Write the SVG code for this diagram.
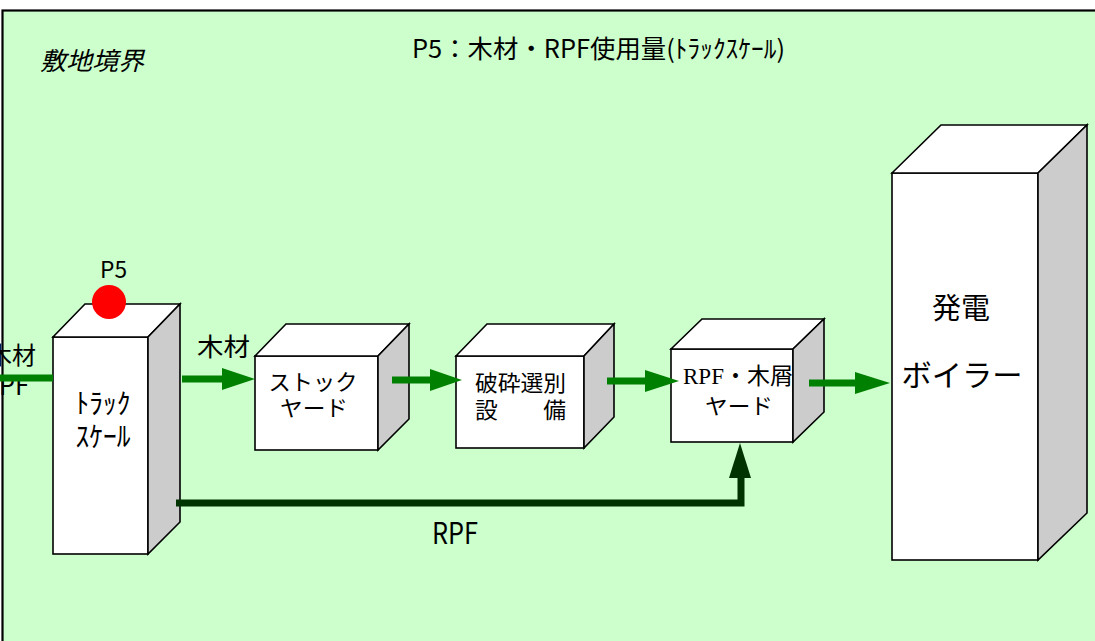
<svg xmlns="http://www.w3.org/2000/svg" width="1095" height="641" viewBox="0 0 1095 641">
<style>
.face{fill:#FFFFFF;stroke:#000000;stroke-width:1.6;stroke-linejoin:miter}
.side{fill:#CCCCCC;stroke:#000000;stroke-width:1.6;stroke-linejoin:miter}
.jp{font-family:"Noto Sans CJK JP",sans-serif;fill:#000000}
.ser{font-family:"Liberation Serif","Noto Sans CJK JP",serif;fill:#000000}
.g{stroke:#008000;stroke-width:7;fill:none}
.gh{fill:#008000}
.d{stroke:#003300;stroke-width:7;fill:none}
.dh{fill:#003300}
</style>
<rect id="boundary" x="2.5" y="10.5" width="1200" height="700" fill="#CCFFCC" stroke="#000000" stroke-width="2.2"/>
<text class="jp" x="40" y="70" font-size="25" font-style="italic" textLength="104" lengthAdjust="spacingAndGlyphs">敷地境界</text>
<text class="jp" x="412" y="58" font-size="25" textLength="373" lengthAdjust="spacingAndGlyphs">P5：木材・RPF使用量(ﾄﾗｯｸｽｹｰﾙ)</text>

<g id="input-label">
<text class="jp" x="-12" y="364" font-size="24">木材</text>
<text class="jp" x="-17" y="395" font-size="27" textLength="46" lengthAdjust="spacingAndGlyphs">RPF</text>
</g>

<g id="truck-scale">
<rect class="face" x="53" y="337" width="95" height="217"/>
<polygon class="face" points="53,337 85,304 180,304 148,337"/>
<polygon class="side" points="148,337 180,304 180,522 148,554"/>
<text class="jp" x="103" y="414" font-size="28" text-anchor="middle" textLength="55" lengthAdjust="spacingAndGlyphs">ﾄﾗｯｸ</text>
<text class="jp" x="103" y="447" font-size="28" text-anchor="middle" textLength="55" lengthAdjust="spacingAndGlyphs">ｽｹｰﾙ</text>
</g>

<g id="p5">
<circle cx="109" cy="302" r="17" fill="#FF0000"/>
<text class="jp" x="100" y="278" font-size="23" textLength="27" lengthAdjust="spacingAndGlyphs">P5</text>
</g>

<g id="stock-yard">
<rect class="face" x="255" y="356" width="123" height="94"/>
<polygon class="face" points="255,356 286,324 409,324 378,356"/>
<polygon class="side" points="378,356 409,324 409,419 378,450"/>
<text class="jp" x="313" y="390" font-size="22" text-anchor="middle" textLength="89" lengthAdjust="spacingAndGlyphs">ストック</text>
<text class="jp" x="314" y="416" font-size="22" text-anchor="middle" textLength="68" lengthAdjust="spacingAndGlyphs">ヤード</text>
</g>

<g id="crusher">
<rect class="face" x="456" y="356" width="128" height="92"/>
<polygon class="face" points="456,356 487,324 614,324 584,356"/>
<polygon class="side" points="584,356 614,324 614,417 584,448"/>
<text class="jp" x="475" y="391" font-size="22" textLength="91" lengthAdjust="spacingAndGlyphs">破砕選別</text>
<text class="jp" x="475" y="418" font-size="22" textLength="91" lengthAdjust="spacingAndGlyphs">設　　備</text>
</g>

<g id="rpf-yard">
<rect class="face" x="671" y="349" width="122" height="93"/>
<polygon class="face" points="671,349 702,319 824,319 793,349"/>
<text class="ser" x="683" y="384" font-size="23">RPF・木屑</text>
<text class="jp" x="739" y="414" font-size="22" text-anchor="middle" textLength="68" lengthAdjust="spacingAndGlyphs">ヤード</text>
<polygon class="side" points="793,349 824,319 824,412 793,442"/>
</g>

<g id="boiler">
<rect class="face" x="892" y="173" width="146" height="387"/>
<polygon class="face" points="892,173 941,125 1087,125 1038,173"/>
<polygon class="side" points="1038,173 1087,125 1087,513 1038,560"/>
<text class="jp" x="961" y="319" font-size="29" text-anchor="middle">発電</text>
<text class="jp" x="962" y="386" font-size="30" text-anchor="middle" textLength="121" lengthAdjust="spacingAndGlyphs">ボイラー</text>
</g>

<g id="connectors">
<line class="g" x1="0" y1="378" x2="53" y2="378"/>
<line class="g" x1="182" y1="379" x2="225" y2="379"/>
<polygon class="gh" points="222,368 255,379 222,390"/>
<line class="g" x1="392" y1="380" x2="432" y2="380"/>
<polygon class="gh" points="430,369 462,380 430,391"/>
<line class="g" x1="607" y1="381" x2="647" y2="381"/>
<polygon class="gh" points="645,370 679,381 645,392"/>
<line class="g" x1="809" y1="383" x2="858" y2="383"/>
<polygon class="gh" points="855,372 890,383 855,394"/>
<polyline class="d" points="176,503 741,503 741,475"/>
<polygon class="dh" points="729,478 740,443 751,478"/>
<text class="jp" x="197" y="356" font-size="25" textLength="53" lengthAdjust="spacingAndGlyphs">木材</text>
<text class="jp" x="432" y="544" font-size="30" textLength="46" lengthAdjust="spacingAndGlyphs">RPF</text>
</g>
</svg>
